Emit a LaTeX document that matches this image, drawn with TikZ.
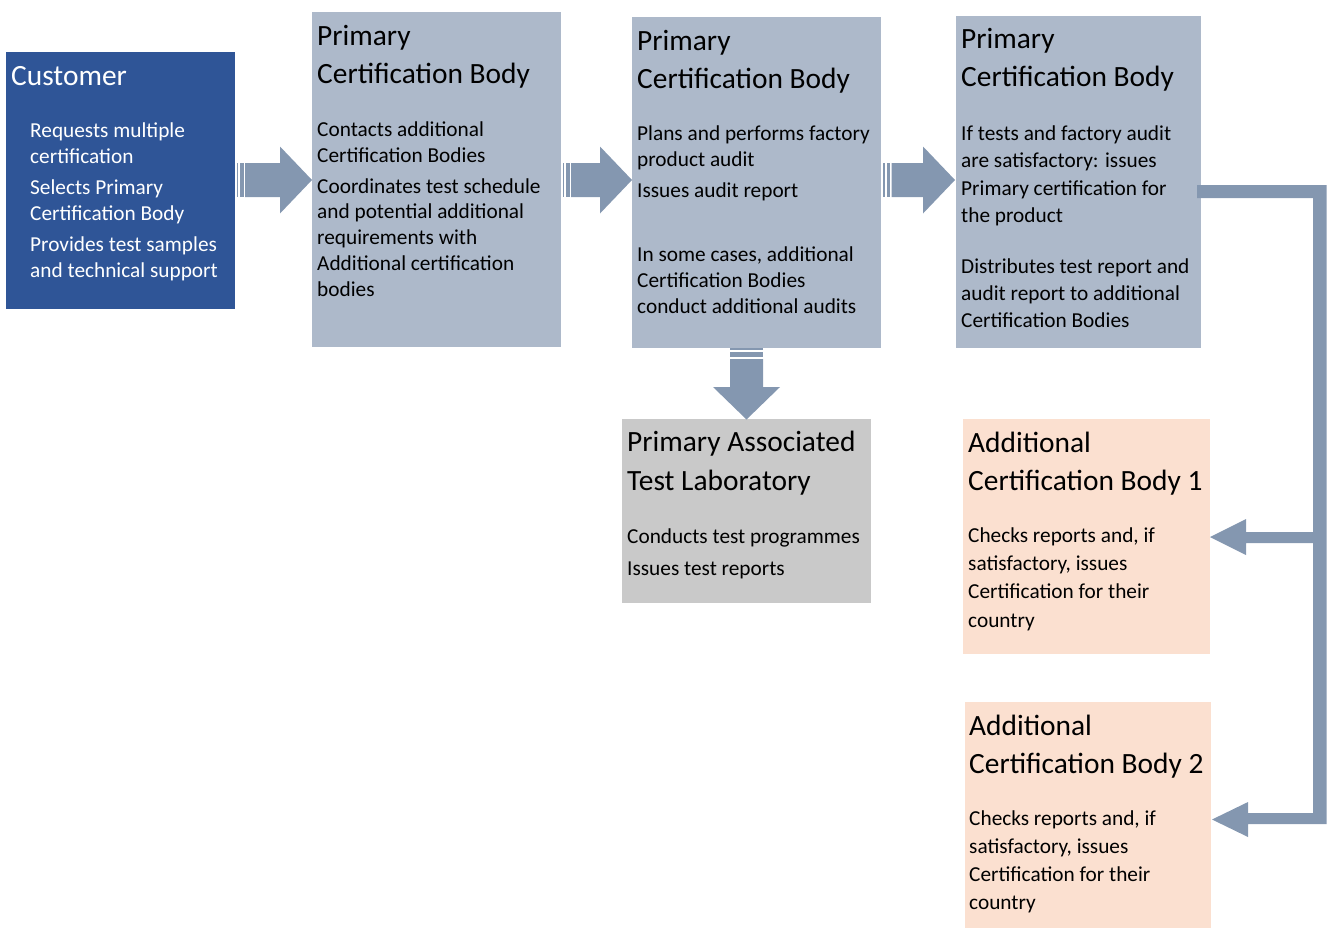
\documentclass[tikz,border=0pt]{standalone}
\usepackage{fontspec}
\setmainfont{Carlito}
\usetikzlibrary{calc}
\definecolor{custblue}{HTML}{2F5597}
\definecolor{pcbgray}{HTML}{ADB9CA}
\definecolor{labgray}{HTML}{C9C9C9}
\definecolor{peach}{HTML}{FBE0D0}
\definecolor{arrowc}{HTML}{8497B0}
\tikzset{
  box/.style={draw=none, anchor=north west, inner sep=0pt, outer sep=0pt},
  ttl/.style={anchor=base west, inner sep=0pt, font=\fontsize{29.4}{34}\selectfont},
  txt/.style={anchor=base west, inner sep=0pt, font=\fontsize{21.3}{25}\selectfont},
  blk/.style={fill=arrowc, draw=none},
}
\newcommand\mkbox[6]{\node[box, fill=#2, minimum width=#5pt, minimum height=#6pt] (#1) at (#3,#4) {};}
\newcommand\mktitle[4]{\node[ttl] (#1) at (#2,#3) {#4};}
\newcommand\mkbody[4]{\node[txt] (#1) at (#2,#3) {#4};}
% right-pointing striped block arrow: start x, tip x, centre y
\newcommand\rarrow[3]{%
  \fill[blk] (#1,#3-17) rectangle (#1+1.7,#3+17);
  \fill[blk] (#1+3.5,#3-17) rectangle (#1+7,#3+17);
  \fill[blk] (#1+8.5,#3-17) -- (#2-32,#3-17) -- (#2-32,#3-33.5) -- (#2,#3)
     -- (#2-32,#3+33.5) -- (#2-32,#3+17) -- (#1+8.5,#3+17) -- cycle;}
\begin{document}
\begin{tikzpicture}[x=1pt,y=-1pt]
\useasboundingbox (0,0) rectangle (1327,929);

% boxes
\mkbox{cust}{custblue}{6}{52}{229}{257}
\mkbox{pcb1}{pcbgray}{312}{12}{249}{335}
\mkbox{pcb2}{pcbgray}{632}{17}{249}{331}
\mkbox{pcb3}{pcbgray}{956}{16}{245}{332}
\mkbox{lab}{labgray}{622}{419}{249}{184}
\mkbox{acb1}{peach}{963}{419}{247}{235}
\mkbox{acb2}{peach}{965}{702}{246}{226}

% customer
\begin{scope}[every node/.append style={text=white}]
\mktitle{ct}{11}{85}{Customer}
\mkbody{c1}{30}{137}{Requests multiple}
\mkbody{c2}{30}{163}{certification}
\mkbody{c3}{30}{194}{Selects Primary}
\mkbody{c4}{30}{220}{Certification Body}
\mkbody{c5}{30}{251}{Provides test samples}
\mkbody{c6}{30}{277}{and technical support}
\end{scope}

% PCB 1
\mktitle{p1a}{317}{45}{Primary}
\mktitle{p1b}{317}{83}{Certification Body}
\mkbody{p11}{317}{136}{Contacts additional}
\mkbody{p12}{317}{162}{Certification Bodies}
\mkbody{p13}{317}{193}{Coordinates test schedule}
\mkbody{p14}{317}{218}{and potential additional}
\mkbody{p15}{317}{244}{requirements with}
\mkbody{p16}{317}{270}{Additional certification}
\mkbody{p17}{317}{296}{bodies}

% PCB 2
\mktitle{p2a}{637}{50}{Primary}
\mktitle{p2b}{637}{88}{Certification Body}
\mkbody{p21}{637}{140}{Plans and performs factory}
\mkbody{p22}{637}{166}{product audit}
\mkbody{p23}{637}{197}{Issues audit report}
\mkbody{p24}{637}{261}{In some cases, additional}
\mkbody{p25}{637}{287}{Certification Bodies}
\mkbody{p26}{637}{313}{conduct additional audits}

% PCB 3
\mktitle{p3a}{961}{48}{Primary}
\mktitle{p3b}{961}{86}{Certification Body}
\mkbody{p31}{961}{140}{If tests and factory audit}
\mkbody{p32}{961}{167}{are satisfactory: issues}
\mkbody{p33}{961}{195}{Primary certification for}
\mkbody{p34}{961}{222}{the product}
\mkbody{p35}{961}{273}{Distributes test report and}
\mkbody{p36}{961}{300}{audit report to additional}
\mkbody{p37}{961}{327}{Certification Bodies}

% Lab
\mktitle{la}{627}{451}{Primary Associated}
\mktitle{lb}{627}{490}{Test Laboratory}
\mkbody{l1}{627}{543}{Conducts test programmes}
\mkbody{l2}{627}{575}{Issues test reports}

% ACB 1
\mktitle{a1a}{968}{452}{Additional}
\mktitle{a1b}{968}{490}{Certification Body 1}
\mkbody{a11}{968}{542}{Checks reports and, if}
\mkbody{a12}{968}{570}{satisfactory, issues}
\mkbody{a13}{968}{598}{Certification for their}
\mkbody{a14}{968}{627}{country}

% ACB 2
\mktitle{a2a}{969}{735}{Additional}
\mktitle{a2b}{969}{773}{Certification Body 2}
\mkbody{a21}{969}{825}{Checks reports and, if}
\mkbody{a22}{969}{853}{satisfactory, issues}
\mkbody{a23}{969}{881}{Certification for their}
\mkbody{a24}{969}{909}{country}

% block arrows
\rarrow{236.5}{312}{180}
\rarrow{562.5}{632}{180}
\rarrow{883}{955}{180}

% down arrow
\fill[blk] (730,348.3) rectangle (763,350);
\fill[blk] (730,352.3) rectangle (763,356.7);
\fill[blk] (730,359) -- (730,387) -- (713,387) -- (746.5,419.5) -- (780,387)
   -- (763,387) -- (763,359) -- cycle;

% distribution connector
\fill[blk] (1197,185) -- (1326.5,185) -- (1326.5,824) -- (1248,824) -- (1248,837)
   -- (1212,819.5) -- (1248,802) -- (1248,813) -- (1313,813) -- (1313,543)
   -- (1246,543) -- (1246,555) -- (1210,537) -- (1246,519) -- (1246,532)
   -- (1313,532) -- (1313,198) -- (1197,198) -- cycle;
\end{tikzpicture}
\end{document}
